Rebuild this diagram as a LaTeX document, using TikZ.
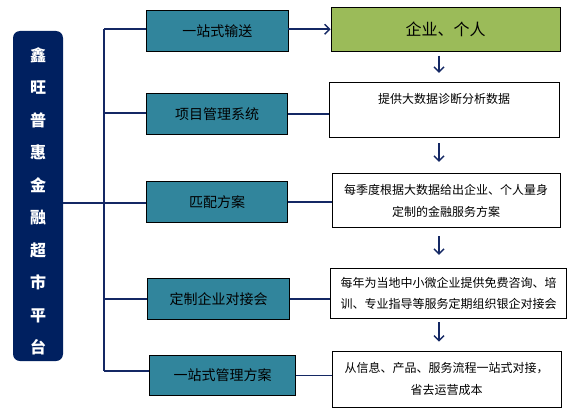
\documentclass[tikz,border=0pt]{standalone}
\usepackage{fontspec}
\setmainfont{Noto Sans CJK SC}
\usetikzlibrary{arrows.meta}
\definecolor{navy}{RGB}{0,32,96}
\definecolor{linec}{RGB}{20,40,100}
\definecolor{tealc}{RGB}{49,133,156}
\definecolor{greenc}{RGB}{155,187,89}
\tikzset{
  midbox/.style={draw=black,line width=0.9pt,fill=tealc,inner sep=0pt,
    font=\fontsize{14}{16}\selectfont},
  rbox/.style={draw=black,line width=0.9pt,fill=white,inner sep=0pt,align=center,
    font=\fontsize{12}{22}\selectfont},
  conn/.style={draw=linec,line width=1.8pt},
  darrow/.style={draw=linec,line width=1.4pt,-{Straight Barb[length=5pt,width=10pt,line width=1.4pt]}},
}
\begin{document}
\begin{tikzpicture}[x=1pt,y=-1pt]
\useasboundingbox (0,0) rectangle (569,417);
% left platform
\node[fill=navy,rounded corners=7pt,minimum width=50pt,minimum height=330pt,inner sep=0pt] (plat) at (38,196) {};
\node[text=white,align=center,font=\fontsize{16}{32.5}\selectfont\bfseries] (plattext) at (38,201.5)
  {鑫\\旺\\普\\惠\\金\\融\\超\\市\\平\\台};
% middle boxes
\node[midbox,minimum width=141.5pt,minimum height=41pt] (m1) at (217.25,31) {一站式输送};
\node[midbox,minimum width=141pt,minimum height=41pt] (m2) at (217,114) {项目管理系统};
\node[midbox,minimum width=141pt,minimum height=40.5pt] (m3) at (217,201.75) {匹配方案};
\node[midbox,minimum width=142pt,minimum height=40.5pt] (m4) at (218.5,298.75) {定制企业对接会};
\node[midbox,minimum width=146pt,minimum height=40pt] (m5) at (222.5,375.5) {一站式管理方案};
% right boxes
\node[draw=black,line width=0.9pt,fill=greenc,minimum width=229pt,minimum height=44pt,inner sep=0pt,
  font=\fontsize{16}{18}\selectfont] (r1) at (445.5,29.3) {企业、个人};
\node[rbox,minimum width=230pt,minimum height=55pt] (r2) at (444,109.8) {提供大数据诊断分析数据\\\mbox{}};
\node[rbox,minimum width=228pt,minimum height=54.4pt] (r3) at (446,200.5) {每季度根据大数据给出企业、个人量身\\定制的金融服务方案};
\node[rbox,minimum width=236pt,minimum height=50pt,font=\fontsize{12}{20.7}\selectfont] (r4) at (448.7,293.3) {每年为当地中小微企业提供免费咨询、培\\训、专业指导等服务定期组织银企对接会};
\node[rbox,minimum width=229pt,minimum height=56.3pt] (r5) at (446.5,379.2) {从信息、产品、服务流程一站式对接，\\省去运营成本};
% trunk
\coordinate (t1) at (104,29);
\coordinate (t2) at (104,113);
\coordinate (tm) at (104,203);
\coordinate (t4) at (104,299);
\coordinate (t5) at (104,371);
\draw[conn] (tm -| plat.east) -- (tm);
\draw[conn] (t1) -- (t5);
\draw[conn] (t1) -- (t1 -| m1.west);
\draw[conn] (t2) -- (t2 -| m2.west);
\draw[conn] (tm) -- (tm -| m3.west);
\draw[conn] (t4) -- (t4 -| m4.west);
\draw[conn] (t5) -- (t5 -| m5.west);
% middle to right
\draw[darrow,line width=1.8pt] (m1.east |- r1.west) -- (r1.west);
\draw[conn] (m2.east) -- (m2.east -| r2.west);
\draw[conn] (m3.east) -- (m3.east -| r3.west);
\draw[conn] (m4.east) -- (m4.east -| r4.west);
\draw[conn] (m5.east) -- (m5.east -| r5.west);
% down arrows
\coordinate (ax) at (439,0);
\draw[darrow,shorten <=4pt,shorten >=9pt] (r1.south -| ax) -- (r2.north -| ax);
\draw[darrow,shorten <=5.5pt,shorten >=11pt] (r2.south -| ax) -- (r3.north -| ax);
\draw[darrow,shorten <=8pt,shorten >=13pt] (r3.south -| ax) -- (r4.north -| ax);
\draw[darrow,shorten <=3.5pt,shorten >=9pt] (r4.south -| ax) -- (r5.north -| ax);
\end{tikzpicture}
\end{document}
